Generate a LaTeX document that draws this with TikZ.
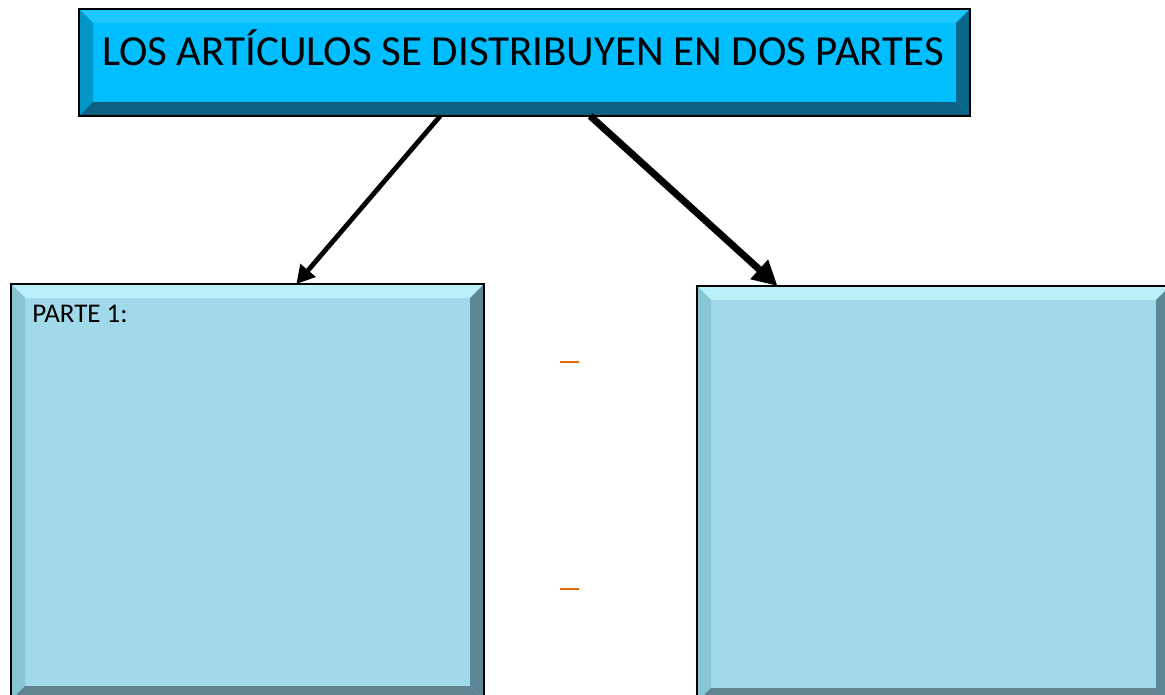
\documentclass[tikz,border=0pt]{standalone}
\usepackage{fontspec}
\setmainfont{Carlito}
\usepackage{tikz}
\usetikzlibrary{arrows.meta}
\definecolor{celeste}{RGB}{0,190,255}
\definecolor{celesteclaro}{RGB}{30,200,255}
\definecolor{celesteizq}{RGB}{0,150,200}
\definecolor{celesteder}{RGB}{8,104,140}
\definecolor{celesteabajo}{RGB}{13,96,130}
\definecolor{agua}{RGB}{160,218,234}
\definecolor{aguaclaro}{RGB}{185,240,250}
\definecolor{aguaizq}{RGB}{136,198,214}
\definecolor{aguader}{RGB}{92,136,150}
\definecolor{aguaabajo}{RGB}{96,132,144}
\definecolor{naranja}{RGB}{228,108,10}
\newcommand\anchobisel{0.35cm}
\tikzset{
    bisel/.style n args={4}{path picture={
        \coordinate (nw) at (path picture bounding box.north west);
        \coordinate (ne) at (path picture bounding box.north east);
        \coordinate (sw) at (path picture bounding box.south west);
        \coordinate (se) at (path picture bounding box.south east);
        \fill[#1] (nw) -- (ne) -- ([shift={(-\anchobisel,-\anchobisel)}]ne)
            -- ([shift={(\anchobisel,-\anchobisel)}]nw) -- cycle;
        \fill[#2] (nw) -- (sw) -- ([shift={(\anchobisel,\anchobisel)}]sw)
            -- ([shift={(\anchobisel,-\anchobisel)}]nw) -- cycle;
        \fill[#3] (ne) -- (se) -- ([shift={(-\anchobisel,\anchobisel)}]se)
            -- ([shift={(-\anchobisel,-\anchobisel)}]ne) -- cycle;
        \fill[#4] (sw) -- (se) -- ([shift={(-\anchobisel,\anchobisel)}]se)
            -- ([shift={(\anchobisel,\anchobisel)}]sw) -- cycle;
    }}
}
\tikzset{
    titulo/.style={rectangle, draw=black, line width=1.7pt, fill=celeste,
        inner sep=0pt, outer sep=0pt, minimum width=22.275cm, minimum height=2.675cm,
        bisel={celesteclaro}{celesteizq}{celesteder}{celesteabajo}},
    parte/.style={rectangle, draw=black, line width=1.7pt, fill=agua,
        inner sep=0pt, outer sep=0pt, minimum width=11.825cm, minimum height=10.4cm,
        bisel={aguaclaro}{aguaizq}{aguader}{aguaabajo}},
    texto/.style={inner sep=0pt, text=black},
    flecha/.style={line width=#1, draw=black}
}

\begin{document}
\begin{tikzpicture}[x=0.025cm, y=-0.025cm]
	\useasboundingbox (0,0) rectangle (1165,695);
	\clip (0,0) rectangle (1165,695);
	\node [titulo, anchor=north west] (arriba) at (79,9) {};
	\node [texto, anchor=base, font=\fontsize{30.5}{36}\selectfont] (lema) at (523,66)
		{LOS ARTÍCULOS SE DISTRIBUYEN EN DOS PARTES};
	\node [parte, anchor=north west] (izq) at (11,284) {};
	\node [parte, anchor=north west] (der) at (697,286) {};
	\node [texto, anchor=base west, font=\fontsize{19.2}{23}\selectfont] (p1) at (32,323) {PARTE 1:};
	\draw [flecha=3.4pt, -{Triangle[length=0.45cm, width=0.48cm]}]
		([xshift=-2.11cm]arriba.south) -- ([xshift=1.22cm]izq.north);
	\draw [flecha=5pt, -{Triangle[length=0.62cm, width=0.62cm]}]
		([xshift=1.64cm]arriba.south) -- ([xshift=-3.9cm]der.north);
	\draw [naranja, line width=1.5pt] (560,362) -- (579,362);
	\draw [naranja, line width=1.5pt] (560,589) -- (579,589);
\end{tikzpicture}
\end{document}
